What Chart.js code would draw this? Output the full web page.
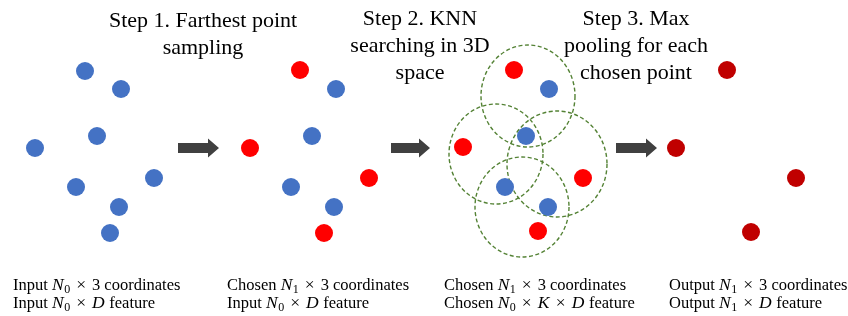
<!DOCTYPE html>
<html>
<head>
<meta charset="utf-8">
<script src="https://cdn.jsdelivr.net/npm/chart.js@4"></script>
<style>
  html, body { margin: 0; padding: 0; background: #fff; }
  #wrap { width: 848px; height: 316px; }
</style>
</head>
<body>
<div id="wrap"><canvas id="chart" width="848" height="316"></canvas></div>
<script>
// ====== DADOS (posições) ======
// Painel 1: nuvem de entrada
const inputX = [85, 121, 97, 35, 154, 76, 119, 110];
const inputY = [71, 89, 136, 148, 178, 187, 207, 233];

// Painel 2: pontos escolhidos (vermelho) e restantes (azul)
const fpsRedX = [300, 250, 369, 324];
const fpsRedY = [70, 148, 178, 233];
const fpsBlueX = [336, 312, 291, 334];
const fpsBlueY = [89, 136, 187, 207];

// Painel 3: KNN
const knnRedX = [514, 463, 583, 538];
const knnRedY = [70, 147, 178, 231];
const knnBlueX = [549, 526, 505, 548];
const knnBlueY = [89, 136, 187, 207];

// círculos de vizinhança
const circleX = [528, 496, 557, 522];
const circleY = [96, 154, 164, 207];
const circleRx = [47, 47, 50, 47];
const circleRy = [51, 50, 53, 50];

// Painel 4: saída
const outX = [727, 676, 796, 751];
const outY = [70, 148, 178, 232];

// setas
const arrowFrom = [178, 391, 616];
const arrowTo = [219, 430, 657];
const arrowY = [148, 148, 148];

// títulos
const titleLines = [
  ["Step 1. Farthest point", "sampling"],
  ["Step 2. KNN", "searching in 3D", "space"],
  ["Step 3. Max", "pooling for each", "chosen point"]
];
const titleX = [203, 420, 636];
const titleY = [27, 25, 25];

// legendas inferiores (*x* = itálico, _n = subscrito, ~ = operador ×)
const captionLines = [
  ["Input *N*_0~3 coordinates", "Input *N*_0~*D* feature"],
  ["Chosen *N*_1~3 coordinates", "Input *N*_0~*D* feature"],
  ["Chosen *N*_1~3 coordinates", "Chosen *N*_0~*K*~*D* feature"],
  ["Output *N*_1~3 coordinates", "Output *N*_1~*D* feature"]
];
const captionX = [13, 227, 444, 669];
const captionY = [290, 308];

const BLUE = "#4472C4";
const RED = "#FF0000";
const DARK_RED = "#C00000";
const GREEN = "#548235";
const ARROW = "#404040";

const pts = (xs, ys) => xs.map((x, i) => ({ x, y: ys[i] }));

const dotSet = (data, color) => ({
  data,
  backgroundColor: color,
  borderWidth: 0,
  pointRadius: 9,
  pointHoverRadius: 9
});

// ====== DESENHO EXTRA (círculos, setas, textos) ======
const SERIF = '"Liberation Serif", "Times New Roman", serif';

function drawRich(ctx, str, x, y, size) {
  const re = /\*([^*]+)\*|_(\w)|(~)|([^*_~]+)/g;
  let m;
  while ((m = re.exec(str)) !== null) {
    if (m[1]) {
      ctx.font = "italic " + (size + 1) + "px " + SERIF;
      ctx.fillText(m[1], x, y);
      x += ctx.measureText(m[1]).width + 0.5;
    } else if (m[2]) {
      const s = Math.round(size * 0.72);
      ctx.font = s + "px " + SERIF;
      ctx.fillText(m[2], x, y + 3);
      x += ctx.measureText(m[2]).width;
    } else if (m[3]) {
      ctx.font = (size + 1) + "px " + SERIF;
      x += 6;
      ctx.fillText("×", x, y);
      x += ctx.measureText("×").width + 6;
    } else {
      ctx.font = size + "px " + SERIF;
      ctx.fillText(m[4], x, y);
      x += ctx.measureText(m[4]).width;
    }
  }
}

const diagramPlugin = {
  id: "diagram",
  beforeDatasetsDraw(chart) {
    const { ctx, scales: { x, y } } = chart;
    ctx.save();
    ctx.strokeStyle = GREEN;
    ctx.lineWidth = 1.4;
    ctx.setLineDash([4, 2.5]);
    circleX.forEach((cx, i) => {
      const px = x.getPixelForValue(cx);
      const py = y.getPixelForValue(circleY[i]);
      const rx = Math.abs(x.getPixelForValue(cx + circleRx[i]) - px);
      const ry = Math.abs(y.getPixelForValue(circleY[i] + circleRy[i]) - py);
      ctx.beginPath();
      ctx.ellipse(px, py, rx, ry, 0, 0, Math.PI * 2);
      ctx.stroke();
    });
    ctx.restore();
  },
  afterDraw(chart) {
    const { ctx, scales: { x, y } } = chart;
    ctx.save();

    // setas
    ctx.fillStyle = ARROW;
    arrowFrom.forEach((x0, i) => {
      const a = x.getPixelForValue(x0);
      const b = x.getPixelForValue(arrowTo[i]);
      const cy = y.getPixelForValue(arrowY[i]);
      const head = 11;
      ctx.beginPath();
      ctx.moveTo(a, cy - 5);
      ctx.lineTo(b - head, cy - 5);
      ctx.lineTo(b - head, cy - 9.5);
      ctx.lineTo(b, cy);
      ctx.lineTo(b - head, cy + 9.5);
      ctx.lineTo(b - head, cy + 5);
      ctx.lineTo(a, cy + 5);
      ctx.closePath();
      ctx.fill();
    });

    // títulos
    ctx.fillStyle = "#000";
    ctx.textAlign = "center";
    ctx.textBaseline = "alphabetic";
    ctx.font = "22px " + SERIF;
    titleLines.forEach((lines, i) => {
      lines.forEach((line, j) => {
        ctx.fillText(line, x.getPixelForValue(titleX[i]), y.getPixelForValue(titleY[i] + j * 27));
      });
    });

    // legendas
    ctx.textAlign = "left";
    captionLines.forEach((lines, i) => {
      lines.forEach((line, j) => {
        drawRich(ctx, line, x.getPixelForValue(captionX[i]), y.getPixelForValue(captionY[j]), 16.5);
      });
    });
    ctx.restore();
  }
};

new Chart(document.getElementById("chart"), {
  type: "scatter",
  data: {
    datasets: [
      dotSet(pts(inputX, inputY), BLUE),
      dotSet(pts(fpsRedX, fpsRedY), RED),
      dotSet(pts(fpsBlueX, fpsBlueY), BLUE),
      dotSet(pts(knnRedX, knnRedY), RED),
      dotSet(pts(knnBlueX, knnBlueY), BLUE),
      dotSet(pts(outX, outY), DARK_RED)
    ]
  },
  options: {
    responsive: false,
    animation: false,
    events: [],
    layout: { padding: 0, autoPadding: false },
    plugins: { legend: { display: false }, tooltip: { enabled: false } },
    scales: {
      x: { type: "linear", min: 0, max: 848, display: false },
      y: { type: "linear", min: 0, max: 316, reverse: true, display: false }
    }
  },
  plugins: [diagramPlugin]
});
</script>
</body>
</html>
